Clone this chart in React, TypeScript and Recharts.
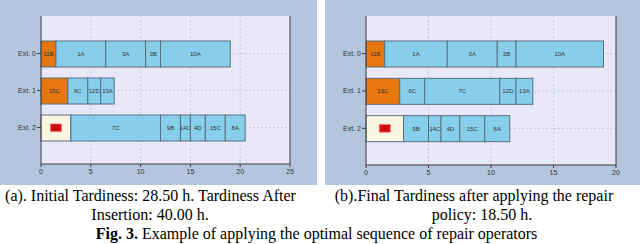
import React from 'react';
import { BarChart, Bar, XAxis, YAxis, CartesianGrid, ReferenceLine } from 'recharts';

// ---- data ----
const categories = ['Ext. 0', 'Ext. 1', 'Ext. 2'];

const initialLabels = [
  ['11B', '1A', '3A', '3B', '10A'],
  ['15C', '6C', '12D', '13A'],
  ['5A', '7C', '9B', '14C', '4D', '15C', '8A'],
];
const initialDurations = [
  [1.5, 5, 4, 1.5, 7],
  [2.7, 2, 1.3, 1.35],
  [3, 9, 2, 1, 1.5, 2, 2],
];
const initialKinds = [
  ['o', 'b', 'b', 'b', 'b'],
  ['o', 'b', 'b', 'b'],
  ['c', 'b', 'b', 'b', 'b', 'b', 'b'],
];

const finalLabels = [
  ['11B', '1A', '3A', '2B', '10A'],
  ['16C', '6C', '7C', '12D', '13A'],
  ['5A', '9B', '14C', '4D', '15C', '8A'],
];
const finalDurations = [
  [1.5, 5, 4, 1.5, 7],
  [2.7, 2, 6, 1.3, 1.35],
  [3, 2, 1, 1.5, 2, 2],
];
const finalKinds = [
  ['o', 'b', 'b', 'b', 'b'],
  ['o', 'b', 'b', 'b', 'b'],
  ['c', 'b', 'b', 'b', 'b', 'b'],
];

const initialTicks = [0, 5, 10, 15, 20, 25];
const finalTicks = [0, 5, 10, 15, 20];

const captionA1 = '(a). Initial Tardiness: 28.50 h. Tardiness After';
const captionA2 = 'Insertion: 40.00 h.';
const captionB1 = '(b).Final Tardiness after applying the repair';
const captionB2 = 'policy: 18.50 h.';
const figBold = 'Fig. 3.';
const figText = ' Example of applying the optimal sequence of repair operators';

// ---- helpers ----
const COLORS: Record<string, string> = { o: '#e8760f', b: '#87ceeb', c: '#f8f6e2' };
const PANEL_BG = '#b3c6dd';
const PLOT_BG = '#e8e8f8';
const AXIS = '#3c3c3c';
const CHART_H = 185;
const TOP = 16;
const PAD_TOP = 19;
const PAD_BOTTOM = 18;

function buildRows(labels: string[][], durations: number[][], kinds: string[][]) {
  return categories.map((name, i) => {
    const r: any = { name };
    durations[i].forEach((d, j) => {
      r['s' + j] = d;
      r['l' + j] = labels[i][j];
      r['k' + j] = kinds[i][j];
    });
    return r;
  });
}

const makeShape = (j: number) => (props: any) => {
  const { x, y, width, height, payload } = props;
  if (!width || width <= 0 || !payload) return <g />;
  const kind = payload['k' + j];
  const label = payload['l' + j];
  const cx = x + width / 2;
  const cy = y + height / 2;
  return (
    <g>
      <rect x={x} y={y} width={width} height={height} fill={COLORS[kind]} stroke="#58707f" strokeWidth={1} />
      {kind === 'c' ? (
        <g>
          <rect x={cx - 5.5} y={cy - 4} width={11} height={7.5} fill="#dd1111" stroke="#f06060" strokeWidth={0.6} />
          <text x={cx} y={cy} textAnchor="middle" dominantBaseline="central" fontSize={4.5} fill="#8a0b0b" fontFamily="Liberation Sans, sans-serif">
            {label}
          </text>
        </g>
      ) : (
        <text x={cx} y={cy} textAnchor="middle" dominantBaseline="central" fontSize={6} fill="#333" fontFamily="Liberation Sans, sans-serif">
          {label}
        </text>
      )}
    </g>
  );
};

function Panel(props: {
  width: number;
  rightMargin: number;
  xAxisHeight: number;
  labels: string[][];
  durations: number[][];
  kinds: string[][];
  ticks: number[];
}) {
  const { width, rightMargin, xAxisHeight, labels, durations, kinds, ticks } = props;
  const rows = buildRows(labels, durations, kinds);
  const maxSeg = Math.max(...durations.map((d) => d.length));
  const xMax = ticks[ticks.length - 1];
  const segIdx = Array.from({ length: maxSeg }, (_, j) => j);
  const plotH = CHART_H - TOP - xAxisHeight;
  const band = (plotH - PAD_TOP - PAD_BOTTOM) / categories.length;
  const hPoints = categories.map((_, i) => TOP + PAD_TOP + band * (i + 0.5));
  return (
    <BarChart
      width={width}
      height={CHART_H}
      data={rows}
      layout="vertical"
      margin={{ top: TOP, right: rightMargin, left: 0, bottom: 0 }}
      barSize={26}
      style={{ background: PANEL_BG }}
    >
      <CartesianGrid fill={PLOT_BG} fillOpacity={1} stroke="#c6c9df" strokeDasharray="2 2" horizontalPoints={hPoints} />
      <XAxis
        type="number"
        domain={[0, xMax]}
        ticks={ticks}
        interval={0}
        height={xAxisHeight}
        tickSize={3}
        tickMargin={2}
        axisLine={{ stroke: AXIS }}
        tickLine={{ stroke: AXIS }}
        tick={{ fontSize: 7, fill: '#333', fontFamily: 'Liberation Sans, sans-serif' }}
      />
      <YAxis
        type="category"
        dataKey="name"
        width={41}
        padding={{ top: PAD_TOP, bottom: PAD_BOTTOM }}
        tickSize={4}
        tickMargin={1}
        axisLine={{ stroke: AXIS }}
        tickLine={{ stroke: AXIS }}
        tick={{ fontSize: 7, fill: '#333', fontFamily: 'Liberation Sans, sans-serif' }}
      />
      <ReferenceLine x={xMax} stroke={AXIS} strokeWidth={1} />
      {segIdx.map((j) => (
        <Bar key={j} dataKey={'s' + j} stackId="a" isAnimationActive={false} shape={makeShape(j)} />
      ))}
    </BarChart>
  );
}

const capStyle: React.CSSProperties = {
  position: 'absolute',
  fontFamily: '"Liberation Serif", "Times New Roman", serif',
  fontSize: 16,
  lineHeight: '19px',
  color: '#000',
  whiteSpace: 'nowrap',
  textAlign: 'center',
  width: 500,
};

function Line(props: { cx: number; top: number; children: React.ReactNode }) {
  return <div style={{ ...capStyle, left: props.cx - 250, top: props.top }}>{props.children}</div>;
}

export default function App() {
  return (
    <div style={{ position: 'absolute', left: 0, top: 0, width: 640, height: 244, background: '#fff', overflow: 'hidden' }}>
      <div style={{ position: 'absolute', left: 0, top: 0 }}>
        <Panel width={317} rightMargin={27} xAxisHeight={21} labels={initialLabels} durations={initialDurations} kinds={initialKinds} ticks={initialTicks} />
      </div>
      <div style={{ position: 'absolute', left: 325, top: 0 }}>
        <Panel width={315} rightMargin={24} xAxisHeight={20} labels={finalLabels} durations={finalDurations} kinds={finalKinds} ticks={finalTicks} />
      </div>
      <Line cx={150.5} top={186}>{captionA1}</Line>
      <Line cx={150} top={205}>{captionA2}</Line>
      <Line cx={474} top={186}>{captionB1}</Line>
      <Line cx={482} top={205}>{captionB2}</Line>
      <Line cx={316.5} top={224}>
        <b>{figBold}</b>
        {figText}
      </Line>
    </div>
  );
}
